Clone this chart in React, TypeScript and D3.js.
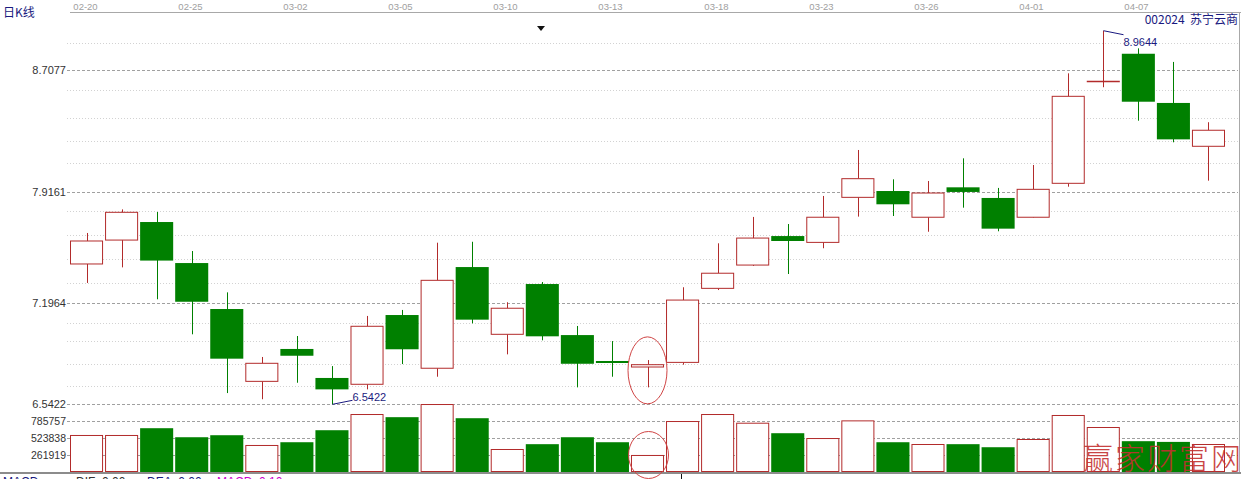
import React from "react";
import * as d3 from "d3";

const dates = [
  "02-20", "02-23", "02-24", "02-25", "02-26", "02-27", "03-02", "03-03", "03-04", "03-05",
  "03-06", "03-09", "03-10", "03-11", "03-12", "03-13", "03-16", "03-17", "03-18", "03-19",
  "03-20", "03-23", "03-24", "03-25", "03-26", "03-27", "03-30", "04-01", "04-02", "04-03",
  "04-07", "04-08", "04-09",
];
const opens = [
  7.452, 7.607, 7.724, 7.458, 7.160, 6.691, 6.901, 6.713, 6.672, 7.121,
  6.776, 7.432, 6.996, 7.322, 6.991, 6.823, 6.784, 6.814, 7.294, 7.445,
  7.633, 7.592, 7.884, 7.925, 7.755, 7.949, 7.880, 7.755, 7.975, 8.641,
  8.815, 8.496, 8.215,
];
const highs = [
  7.653, 7.806, 7.789, 7.536, 7.268, 6.849, 6.985, 6.790, 7.115, 7.154,
  7.590, 7.596, 7.204, 7.335, 7.050, 6.952, 6.829, 7.301, 7.586, 7.757,
  7.711, 7.893, 8.191, 8.001, 7.990, 8.137, 7.945, 8.094, 8.688, 8.9644,
  8.850, 8.762, 8.371,
];
const lows = [
  7.329, 7.430, 7.223, 6.996, 6.615, 6.575, 6.682, 6.5422, 6.639, 6.803,
  6.721, 7.067, 6.866, 6.957, 6.652, 6.721, 6.652, 6.799, 7.283, 7.439,
  7.387, 7.554, 7.759, 7.763, 7.661, 7.817, 7.664, 7.752, 7.953, 8.598,
  8.381, 8.241, 7.992,
];
const closes = [
  7.601, 7.787, 7.474, 7.207, 6.838, 6.808, 6.857, 6.639, 7.048, 6.899,
  7.346, 7.091, 7.165, 6.983, 6.805, 6.810, 6.799, 7.218, 7.392, 7.620,
  7.601, 7.755, 8.005, 7.839, 7.912, 7.919, 7.681, 7.936, 8.539, 8.641,
  8.504, 8.260, 8.319,
];
const volumes = [
  555000, 555000, 667000, 528000, 559000, 401000, 451000, 636000, 878000, 837000,
  1032000, 821000, 339000, 421000, 528000, 451000, 247000, 770000, 878000, 744000,
  590000, 508000, 780000, 451000, 416000, 421000, 374000, 493000, 863000, 678000,
  467000, 456000, 416000,
];
const priceTicks = [8.7077, 7.9161, 7.1964, 6.5422];
const priceMinorTicks = [
  8.885, 8.580, 8.398, 8.249, 8.107, 7.795, 7.640, 7.484, 7.329, 7.069, 6.953, 6.803, 6.661,
];
const volumeTicks = [261919, 523838, 785757];
const dateLabelIdx = [0, 3, 6, 9, 12, 15, 18, 21, 24, 27, 30];
const highlightIdx = 16;
const title = "日K线";
const stockName = "002024  苏宁云商";
const watermark = "赢家财富网";

const RED = "#b22b2b";
const GREEN = "#008000";
const NAVY = "#1a1a80";
const NUM_FONT = "'Liberation Sans', Arial, sans-serif";
const CJK_FONT = "'Noto Sans CJK SC', sans-serif";

export default function App() {
  const W = 1241;
  const H = 479;
  const idx = dates.map((_, i) => i);
  const x = d3.scaleBand<number>().domain(idx).range([70, 70 + 35 * dates.length]).paddingInner(2 / 35).paddingOuter(0).align(0);
  const bw = x.bandwidth();
  const y = d3.scaleLinear().domain([6.5422, 8.7077]).range([404.3, 70.3]);
  const yv = d3.scaleLinear().domain([0, 785757]).range([471.5, 420.5]);
  const gx0 = 67;
  const gx1 = 1238;

  const maxI = d3.maxIndex(highs);
  const minI = d3.minIndex(lows);
  const cx = (i: number) => Math.round((x(i) as number) + bw / 2) + 0.5;

  return (
    <svg width={W} height={H} style={{ position: "absolute", left: 0, top: 0, background: "#fff" }}>
      <rect x={0} y={0} width={W} height={H} fill="#fff" />
      <line x1={70} x2={W} y1={12.5} y2={12.5} stroke="#a8a8a8" />
      <line x1={1239.5} x2={1239.5} y1={12} y2={472} stroke="#a8a8a8" />
      <line x1={0} x2={W} y1={473} y2={473} stroke="#8c8c8c" strokeWidth={2} />

      <text x={3} y={17} fontSize={12} fill={NAVY} fontFamily={CJK_FONT}>{title}</text>

      {dateLabelIdx.map((i) => (
        <text key={"d" + i} x={cx(i) - 2} y={10} fontSize={9.5} fill="#a0a0a0" textAnchor="middle" fontFamily={NUM_FONT}>
          {dates[i]}
        </text>
      ))}

      {priceMinorTicks.map((p) => (
        <line key={"m" + p} x1={gx0} x2={gx1} y1={Math.round(y(p)) + 0.5} y2={Math.round(y(p)) + 0.5} stroke="#d2d2d2" strokeDasharray="1,2" />
      ))}
      {priceTicks.map((p) => (
        <g key={"p" + p}>
          <line x1={gx0} x2={gx1} y1={Math.round(y(p)) + 0.5} y2={Math.round(y(p)) + 0.5} stroke="#a0a0a0" strokeDasharray="3,2" />
          <text x={66} y={y(p) + 4} fontSize={11} fill="#333" textAnchor="end" fontFamily={NUM_FONT}>
            {p.toFixed(4)}
          </text>
        </g>
      ))}
      {volumeTicks.map((v) => (
        <g key={"v" + v}>
          <line x1={gx0} x2={gx1} y1={Math.round(yv(v)) + 0.5} y2={Math.round(yv(v)) + 0.5} stroke="#a0a0a0" strokeDasharray="3,2" />
          <text x={66} y={yv(v) + 4} fontSize={10.5} fill="#333" textAnchor="end" fontFamily={NUM_FONT}>
            {String(v)}
          </text>
        </g>
      ))}

      {idx.map((i) => {
        const up = closes[i] >= opens[i];
        const x0 = x(i) as number;
        const c = cx(i);
        const top = y(Math.max(opens[i], closes[i]));
        const bot = y(Math.min(opens[i], closes[i]));
        const hy = y(highs[i]);
        const ly = y(lows[i]);
        const h = bot - top;
        if (h < 1) {
          const yy = Math.round(top) + 0.5;
          return (
            <g key={"c" + i}>
              <line x1={c} x2={c} y1={hy} y2={ly} stroke={up ? RED : GREEN} />
              <line x1={x0} x2={x0 + bw} y1={yy} y2={yy} stroke={up ? RED : GREEN} strokeWidth={1.5} />
            </g>
          );
        }
        if (up) {
          return (
            <g key={"c" + i}>
              <line x1={c} x2={c} y1={hy} y2={top} stroke={RED} />
              <line x1={c} x2={c} y1={bot} y2={ly} stroke={RED} />
              <rect x={x0 + 0.5} y={top} width={bw - 1} height={h} fill="#fff" stroke={RED} strokeWidth={1} />
            </g>
          );
        }
        return (
          <g key={"c" + i}>
            <line x1={c} x2={c} y1={hy} y2={ly} stroke={GREEN} />
            <rect x={x0} y={top} width={bw} height={Math.max(h, 2)} fill={GREEN} />
          </g>
        );
      })}

      {idx.map((i) => {
        const up = closes[i] >= opens[i];
        const x0 = x(i) as number;
        const t = yv(volumes[i]);
        const b = yv(0);
        return up ? (
          <rect key={"vb" + i} x={x0 + 0.5} y={t} width={bw - 1} height={b - t} fill="#fff" stroke={RED} />
        ) : (
          <rect key={"vb" + i} x={x0} y={t} width={bw} height={b - t + 0.5} fill={GREEN} />
        );
      })}

      <polyline points={`${cx(maxI)},${y(highs[maxI])} ${cx(maxI) + 20},${y(highs[maxI]) + 4}`} fill="none" stroke={NAVY} />
      <text x={cx(maxI) + 20} y={y(highs[maxI]) + 15} fontSize={11} fill={NAVY} fontFamily={NUM_FONT}>
        {highs[maxI].toFixed(4)}
      </text>
      <polyline points={`${cx(minI)},${y(lows[minI])} ${cx(minI) + 20},${y(lows[minI]) - 4}`} fill="none" stroke={NAVY} />
      <text x={cx(minI) + 20} y={y(lows[minI]) - 3} fontSize={11} fill={NAVY} fontFamily={NUM_FONT}>
        {lows[minI].toFixed(4)}
      </text>

      <ellipse cx={cx(highlightIdx) - 1} cy={y(lows[highlightIdx]) - 17} rx={19.5} ry={33.5} fill="none" stroke="#d04545" strokeWidth={1} />
      <ellipse cx={cx(highlightIdx)} cy={455} rx={20} ry={23.5} fill="none" stroke="#d04545" strokeWidth={1} />

      <path d="M537,26 L545,26 L541,31 Z" fill="#111" />
      <line x1={681.5} x2={681.5} y1={474} y2={479} stroke="#111" />

      <text x={1238} y={24} fontSize={12} fill={NAVY} textAnchor="end" fontFamily={CJK_FONT} style={{ whiteSpace: "pre" }}>
        {stockName}
      </text>

      <text y={486} fontSize={12} fontFamily={NUM_FONT}>
        <tspan x={3} fill={NAVY}>MACD</tspan>
        <tspan x={76} fill="#333">DIF: 0.00</tspan>
        <tspan x={147} fill={NAVY}>DEA: 0.00</tspan>
        <tspan x={217} fill="#cc00cc">MACD: 0.10</tspan>
      </text>

      <text x={1083} y={469} fontSize={30} fill="#c43030" fontFamily={CJK_FONT} fontWeight={300} letterSpacing={2} opacity={0.9}>
        {watermark}
      </text>
    </svg>
  );
}
